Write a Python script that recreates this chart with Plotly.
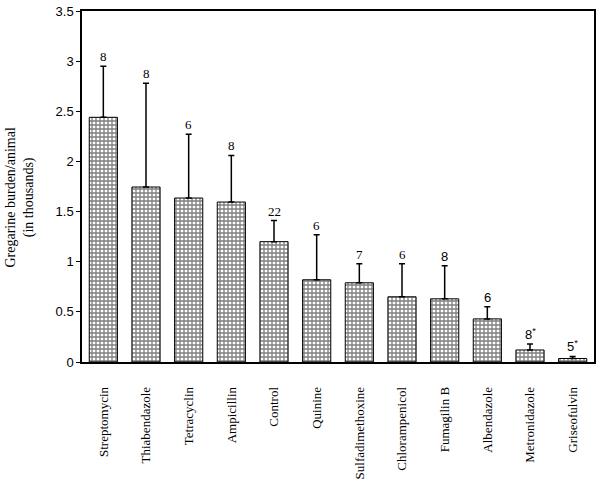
import plotly.graph_objects as go

categories = ["Streptomycin", "Thiabendazole", "Tetracyclin", "Ampicillin", "Control",
              "Quinine", "Sulfadimethoxine", "Chlorampenicol", "Fumagilin B",
              "Albendazole", "Metronidazole", "Griseofulvin"]
means = [2.44, 1.745, 1.635, 1.595, 1.20, 0.82, 0.79, 0.65, 0.63, 0.43, 0.12, 0.035]
err_up = [0.51, 1.035, 0.635, 0.465, 0.21, 0.45, 0.19, 0.33, 0.33, 0.12, 0.06, 0.02]
n_labels = ["8", "8", "6", "8", "22", "6", "7", "6", "8", "6", "8<sup>*</sup>", "5<sup>*</sup>"]
label_serif = [True, True, True, True, True, True, True, True, False, False, False, False]
y_title = "Gregarine burden/animal<br>(in thousands)"

SERIF = "Times New Roman, Liberation Serif, serif"
SANS = "Arial, Liberation Sans, sans-serif"

fig = go.Figure()
fig.add_trace(go.Bar(
    x=categories, y=means,
    marker=dict(color="white",
                line=dict(color="black", width=1),
                pattern=dict(shape="+", fgcolor="black", bgcolor="white", size=4, solidity=0.55)),
    error_y=dict(type="data", array=err_up, arrayminus=[0] * len(err_up), symmetric=False,
                 color="black", thickness=1.5, width=3),
    showlegend=False,
))

for c, m, e, lab, serif in zip(categories, means, err_up, n_labels, label_serif):
    fig.add_annotation(x=c, y=m + e, text=lab, showarrow=False, yanchor="bottom", yshift=0,
                       font=dict(family=SERIF if serif else SANS, size=13, color="black"))

# y-axis title as a rotated annotation to match the reference's placement
fig.add_annotation(x=0, y=0.5, xref="paper", yref="paper", text=y_title, showarrow=False,
                   textangle=-90, xanchor="center", yanchor="middle", xshift=-63, yshift=-11,
                   font=dict(family=SERIF, size=14, color="black"))

fig.update_layout(
    width=600, height=490,
    margin=dict(l=82, r=6, t=11, b=128),
    plot_bgcolor="white", paper_bgcolor="white",
    bargap=0.34,
    font=dict(family=SERIF, color="black"),
    xaxis=dict(showline=True, linecolor="black", linewidth=1.5, mirror=True, automargin=False,
               tickangle=-90, ticks="", ticklabelstandoff=18,
               tickfont=dict(family=SERIF, size=13, color="black")),
    yaxis=dict(range=[0, 3.5], dtick=0.5, showgrid=False, zeroline=False, automargin=False,
               showline=True, linecolor="black", linewidth=1.5, mirror=True,
               ticks="outside", ticklen=4, tickcolor="black",
               tickfont=dict(family=SANS, size=13, color="black")),
)

fig.write_html("out.html", post_script="document.body.style.margin='0';",
               config={"displayModeBar": False})
